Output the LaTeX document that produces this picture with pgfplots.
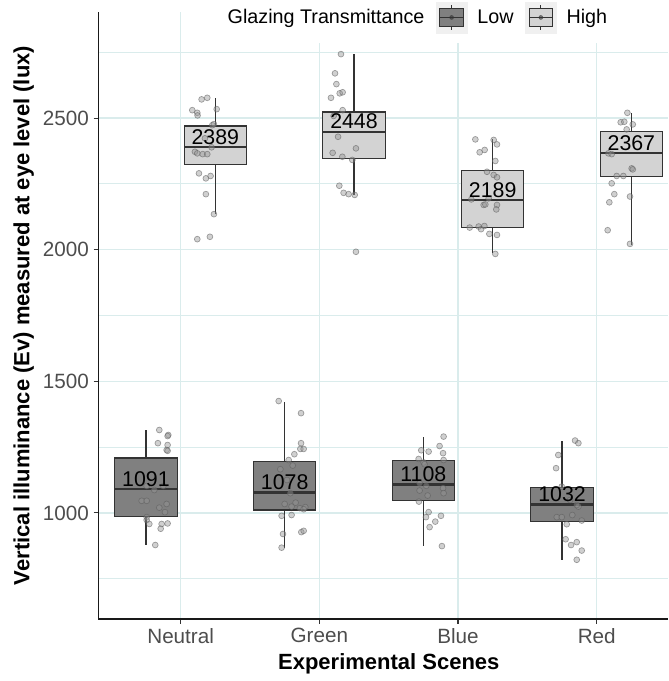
\documentclass[border=0pt]{standalone}
\usepackage{fontspec}
\setmainfont{Liberation Sans}
\usepackage{pgfplots}
\pgfplotsset{compat=1.18}
\definecolor{gridc}{RGB}{218,236,236}
\definecolor{boxline}{RGB}{51,51,51}
\definecolor{lowfill}{RGB}{128,128,128}
\definecolor{highfill}{RGB}{211,211,211}
\definecolor{tickc}{RGB}{77,77,77}
\definecolor{keybg}{RGB}{240,240,240}
\definecolor{ptfill}{RGB}{150,150,150}
\definecolor{ptdraw}{RGB}{90,90,90}
\newcommand{\legkey}[1]{%
  \path (-8.6pt,0pt) (30.75pt,0pt);
  \fill[keybg] (0pt,-11.6pt) rectangle (23.25pt,11.6pt);
  \draw[boxline, line width=0.7pt, fill=#1] (2.8pt,-6.9pt) rectangle (20.45pt,6.9pt);
  \draw[boxline, line width=0.9pt] (2.8pt,0pt) -- (20.45pt,0pt);
  \draw[boxline, line width=0.7pt] (11.6pt,6.9pt) -- (11.6pt,9.6pt) (11.6pt,-6.9pt) -- (11.6pt,-9.6pt);
  \fill[boxline, opacity=0.6] (11.6pt,0pt) circle (1.5pt);
}
\pgfplotsset{
  ptstyle/.style={forget plot, only marks, mark=*, mark size=2.2pt,
    mark options={fill=ptfill, draw=ptdraw, fill opacity=0.45, draw opacity=0.55, line width=0.5pt}},
  bx/.style={forget plot, draw=boxline, line width=0.9pt, mark=none},
  med/.style={forget plot, draw=boxline, line width=1.8pt, mark=none},
}
\begin{document}
\begin{tikzpicture}
\begin{axis}[
  scale only axis, width=427.5pt, height=455.25pt,
  xmin=0.406, xmax=4.516, ymin=597, ymax=2903,
  axis x line*=bottom, axis y line*=left,
  axis line style={-, black!90, line width=0.9pt},
  xtick={1,2,3,4}, xticklabels={Neutral,Green,Blue,Red},
  ytick={1000,1500,2000,2500}, minor ytick={750,1250,1750,2250,2750},
  tick align=outside, major tick length=3.5pt,
  major tick style={black!80, line width=0.8pt},
  minor tick style={draw=none},
  xtick pos=bottom, ytick pos=left,
  xmajorgrids, ymajorgrids, yminorgrids,
  major grid style={gridc, line width=0.9pt},
  minor grid style={gridc, line width=0.9pt},
  /pgf/number format/assume math mode=true,
  /pgf/number format/1000 sep={},
  ticklabel style={font=\fontsize{15.5}{18}\selectfont, text=tickc},
  xlabel={Experimental Scenes},
  ylabel={Vertical illuminance (Ev) measured at eye level (lux)},
  every axis x label/.style={at={(axis description cs:0.5097,-0.0741)}, anchor=center,
    font=\fontsize{16.5}{19}\selectfont\bfseries, text=black},
  every axis y label/.style={at={(axis description cs:-0.131,0.5)}, rotate=90, anchor=center,
    font=\fontsize{16.5}{19}\selectfont\bfseries, text=black},
  legend style={at={(0.560,0.991)}, anchor=center, draw=none, fill=white,
    inner xsep=7pt, inner ysep=7.5pt, column sep=0pt,
    font=\fontsize{14.8}{17}\selectfont, nodes={inner xsep=0pt}, cells={anchor=center}},
  legend columns=3,
]
\addlegendimage{empty legend}
\addlegendentry{Glazing Transmittance}
\addlegendimage{legend image code/.code={\legkey{lowfill}}}
\addlegendentry{Low}
\addlegendimage{legend image code/.code={\legkey{highfill}}}
\addlegendentry{High}

% ---- Low boxes (whiskers, box Q1-Q3, median)
\addplot[bx] coordinates {(0.75,880) (0.75,986)};
\addplot[bx] coordinates {(0.75,1209) (0.75,1315)};
\addplot[bx, fill=lowfill] coordinates {(0.525,986) (0.975,986) (0.975,1209) (0.525,1209)} -- cycle;
\addplot[med] coordinates {(0.525,1091) (0.975,1091)};

\addplot[bx] coordinates {(1.75,868) (1.75,1011)};
\addplot[bx] coordinates {(1.75,1195) (1.75,1423)};
\addplot[bx, fill=lowfill] coordinates {(1.525,1011) (1.975,1011) (1.975,1195) (1.525,1195)} -- cycle;
\addplot[med] coordinates {(1.525,1078) (1.975,1078)};

\addplot[bx] coordinates {(2.75,875) (2.75,1047)};
\addplot[bx] coordinates {(2.75,1199) (2.75,1287)};
\addplot[bx, fill=lowfill] coordinates {(2.525,1047) (2.975,1047) (2.975,1199) (2.525,1199)} -- cycle;
\addplot[med] coordinates {(2.525,1108) (2.975,1108)};

\addplot[bx] coordinates {(3.75,822) (3.75,967)};
\addplot[bx] coordinates {(3.75,1096) (3.75,1273)};
\addplot[bx, fill=lowfill] coordinates {(3.525,967) (3.975,967) (3.975,1096) (3.525,1096)} -- cycle;
\addplot[med] coordinates {(3.525,1032) (3.975,1032)};

% ---- High boxes
\addplot[bx] coordinates {(1.25,2135) (1.25,2324)};
\addplot[bx] coordinates {(1.25,2470) (1.25,2575)};
\addplot[bx, fill=highfill] coordinates {(1.025,2324) (1.475,2324) (1.475,2470) (1.025,2470)} -- cycle;
\addplot[med] coordinates {(1.025,2389) (1.475,2389)};

\addplot[bx] coordinates {(2.25,2208) (2.25,2346)};
\addplot[bx] coordinates {(2.25,2523) (2.25,2743)};
\addplot[bx, fill=highfill] coordinates {(2.025,2346) (2.475,2346) (2.475,2523) (2.025,2523)} -- cycle;
\addplot[med] coordinates {(2.025,2448) (2.475,2448)};

\addplot[bx] coordinates {(3.25,1987) (3.25,2085)};
\addplot[bx] coordinates {(3.25,2302) (3.25,2419)};
\addplot[bx, fill=highfill] coordinates {(3.025,2085) (3.475,2085) (3.475,2302) (3.025,2302)} -- cycle;
\addplot[med] coordinates {(3.025,2189) (3.475,2189)};

\addplot[bx] coordinates {(4.25,2019) (4.25,2277)};
\addplot[bx] coordinates {(4.25,2448) (4.25,2518)};
\addplot[bx, fill=highfill] coordinates {(4.025,2277) (4.475,2277) (4.475,2448) (4.025,2448)} -- cycle;
\addplot[med] coordinates {(4.025,2367) (4.475,2367)};

% Low points
\addplot[ptstyle] table {
x y
0.846 1315
0.911 1296
0.906 1292
0.836 1265
0.906 1258
0.899 1239
0.906 1236
0.875 1102
0.810 1087
0.755 1102
0.719 1046
0.755 1046
0.846 1020
0.899 1034
0.887 1003
0.755 984
0.755 973
0.774 958
0.863 958
0.906 960
0.856 940
0.817 878
1.707 1425
1.868 1379
1.868 1265
1.863 1243
1.887 1243
1.820 1223
1.779 1201
1.808 1180
1.719 1166
1.767 1125
1.791 1075
1.750 1034
1.800 1024
1.829 1039
1.860 1018
1.899 1022
1.887 1014
1.728 989
1.800 992
1.738 920
1.870 927
1.887 932
1.728 868
2.896 1290
2.867 1254
2.735 1238
2.788 1233
2.892 1227
2.896 1201
2.716 1205
2.752 1192
2.759 1185
2.723 1113
2.771 1103
2.723 1085
2.781 1066
2.892 1094
2.896 1075
2.718 1043
2.788 1003
2.877 989
2.769 984
2.836 967
2.795 946
2.884 874
3.844 1275
3.868 1265
3.723 1220
3.707 1170
3.748 1100
3.808 1049
3.868 1024
3.856 1030
3.712 984
3.748 984
3.824 992
3.892 971
3.784 957
3.776 900
3.815 878
3.856 889
3.892 857
3.856 822
};
% High points
\addplot[ptstyle] table {
x y
1.151 2571
1.192 2577
1.084 2530
1.120 2520
1.122 2510
1.260 2534
1.228 2473
1.240 2477
1.175 2423
1.103 2372
1.120 2366
1.159 2363
1.192 2363
1.223 2389
1.132 2290
1.182 2271
1.216 2280
1.182 2211
1.240 2135
1.120 2040
1.211 2049
2.156 2743
2.113 2670
2.123 2629
2.147 2594
2.168 2598
2.084 2577
2.168 2530
2.103 2508
2.135 2429
2.096 2368
2.166 2353
2.264 2385
2.238 2341
2.144 2243
2.175 2216
2.211 2211
2.255 2208
2.264 1992
3.125 2419
3.156 2370
3.192 2379
3.257 2417
3.281 2400
3.269 2337
3.209 2296
3.257 2284
3.281 2275
3.096 2191
3.221 2195
3.185 2170
3.197 2172
3.281 2170
3.276 2153
3.084 2084
3.149 2088
3.166 2078
3.190 2090
3.226 2060
3.281 2056
3.269 1984
4.221 2520
4.173 2484
4.199 2486
4.260 2476
4.216 2457
4.084 2366
4.108 2363
4.252 2309
4.260 2305
4.144 2280
4.192 2280
4.108 2252
4.127 2211
4.091 2180
4.240 2202
4.079 2074
4.240 2022
};
% Median labels
\addplot[forget plot, only marks, mark=none, nodes near coords, point meta=explicit symbolic,
  nodes near coords style={anchor=base, yshift=2.2pt, inner sep=0pt, font=\fontsize{16}{19}\selectfont, text=black}]
  table[meta=lab] {
x y lab
0.75 1091 1091
1.75 1078 1078
2.75 1108 1108
3.75 1032 1032
1.25 2389 2389
2.25 2448 2448
3.25 2189 2189
4.25 2367 2367
};
\coordinate (SW) at (rel axis cs:0,0);
\coordinate (NE) at (rel axis cs:1,1);
\end{axis}
\pgfresetboundingbox
\path[use as bounding box] ([xshift=-73.7pt,yshift=-46.5pt]SW) rectangle ([yshift=9pt]NE);
\end{tikzpicture}
\end{document}
